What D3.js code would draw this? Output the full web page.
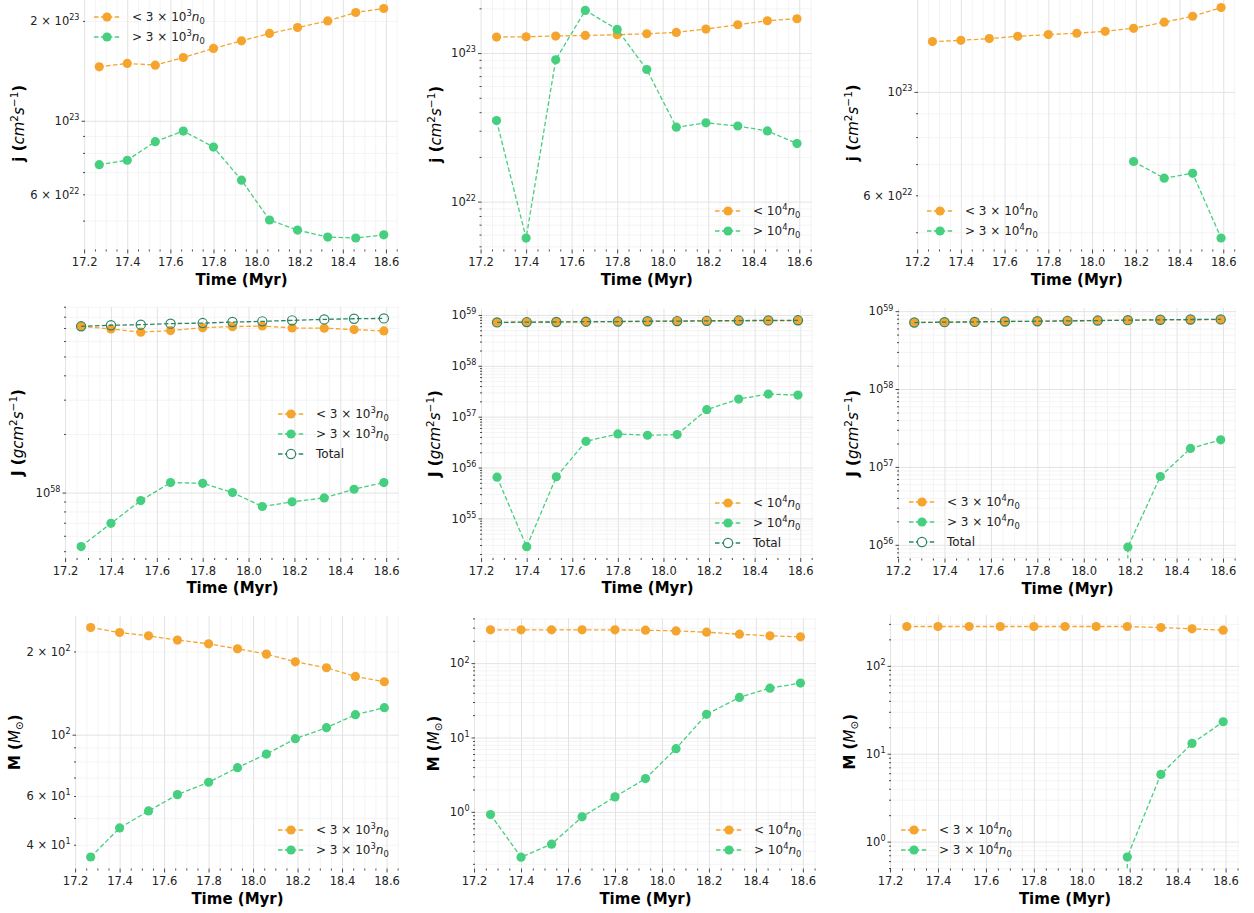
<!DOCTYPE html>
<html>
<head>
<meta charset="utf-8">
<script src="https://cdn.jsdelivr.net/npm/d3@7"></script>
<style>
  body { margin: 0; background: #fff; }
  svg { display: block; }
</style>
</head>
<body>
<script>
// snapshot times (Myr)
var time = [17.27, 17.40, 17.53, 17.66, 17.80, 17.93, 18.06, 18.19, 18.33, 18.46, 18.59];
var xTicks = [17.2, 17.4, 17.6, 17.8, 18.0, 18.2, 18.4, 18.6];

// specific angular momentum j (cm^2 s^-1)
var jLo3e3 = [1.454e23, 1.489e23, 1.471e23, 1.551e23, 1.652e23, 1.741e23, 1.833e23, 1.910e23, 2.00e23, 2.12e23, 2.18e23];
var jHi3e3 = [7.37e22, 7.60e22, 8.65e22, 9.31e22, 8.33e22, 6.62e22, 5.02e22, 4.68e22, 4.46e22, 4.43e22, 4.53e22];
var jLo1e4 = [1.282e23, 1.288e23, 1.302e23, 1.314e23, 1.328e23, 1.349e23, 1.377e23, 1.451e23, 1.551e23, 1.651e23, 1.703e23];
var jHi1e4 = [3.51e22, 5.68e21, 9.01e22, 1.938e23, 1.443e23, 7.75e22, 3.17e22, 3.39e22, 3.23e22, 2.99e22, 2.46e22];
var jLo3e4 = [1.282e23, 1.290e23, 1.301e23, 1.316e23, 1.327e23, 1.336e23, 1.349e23, 1.369e23, 1.411e23, 1.453e23, 1.517e23];
var jHi3e4 = [null, null, null, null, null, null, null, 7.09e22, 6.53e22, 6.69e22, 4.86e22];

// angular momentum J (g cm^2 s^-1)
var JTotal = [7.14e58, 7.23e58, 7.28e58, 7.37e58, 7.42e58, 7.51e58, 7.57e58, 7.66e58, 7.75e58, 7.81e58, 7.84e58];
var JLo3e3 = [7.14e58, 6.92e58, 6.66e58, 6.79e58, 7.03e58, 7.11e58, 7.17e58, 7.00e58, 6.98e58, 6.87e58, 6.76e58];
var JHi3e3 = [5.28e57, 6.95e57, 9.10e57, 1.125e58, 1.116e58, 1.00e58, 8.48e57, 8.96e57, 9.39e57, 1.04e58, 1.125e58];
var JLo1e4 = [7.13e58, 7.22e58, 7.27e58, 7.34e58, 7.38e58, 7.46e58, 7.52e58, 7.55e58, 7.60e58, 7.65e58, 7.70e58];
var JHi1e4 = [6.46e55, 2.78e54, 6.56e55, 3.28e56, 4.57e56, 4.31e56, 4.44e56, 1.37e57, 2.22e57, 2.78e57, 2.66e57];
var JLo3e4 = [7.13e58, 7.22e58, 7.27e58, 7.36e58, 7.41e58, 7.50e58, 7.56e58, 7.64e58, 7.70e58, 7.74e58, 7.78e58];
var JHi3e4 = [0, 0, 0, 0, 0, 0, 0, 9.34e55, 7.53e56, 1.73e57, 2.23e57];

// mass M (Msun)
var MLo3e3 = [244.2, 234.2, 227.8, 219.8, 213.2, 204.5, 195.6, 183.5, 174.6, 162.4, 155.4];
var MHi3e3 = [36.1, 46.0, 53.0, 60.7, 67.3, 76.0, 85.1, 96.7, 106.0, 118.1, 125.2];
var MLo1e4 = [280.3, 280.3, 280.3, 280.3, 280.3, 277.3, 271.6, 260.7, 245.2, 232.8, 225.7];
var MHi1e4 = [0.921, 0.246, 0.368, 0.857, 1.59, 2.80, 7.08, 20.5, 34.6, 46.1, 53.9];
var MLo3e4 = [279.9, 279.9, 279.9, 279.9, 279.9, 279.9, 279.9, 279.9, 272.7, 263.3, 254.3];
var MHi3e4 = [0, 0, 0, 0, 0, 0, 0, 0.669, 5.82, 13.1, 23.1];

// labelled y ticks per panel
var yLab1 = [6e22, 1e23, 2e23];
var yLab2 = [1e22, 1e23];
var yLab3 = [6e22, 1e23];
var yLab4 = [1e58];
var yLab5 = [1e55, 1e56, 1e57, 1e58, 1e59];
var yLab6 = [1e56, 1e57, 1e58, 1e59];
var yLab7 = [4e1, 6e1, 1e2, 2e2];
var yLab8 = [1e0, 1e1, 1e2];
var yLab9 = [1e0, 1e1, 1e2];

var ORANGE = "#f5a52e", GREEN = "#45cf7f", TEAL = "#2b8468";

// rich text pieces (mathtext style)
var labLo3e3 = [{t: "< 3 \u00d7 10"}, {t: "3", sup: 1}, {t: "n", i: 1}, {t: "0", sub: 1}];
var labHi3e3 = [{t: "> 3 \u00d7 10"}, {t: "3", sup: 1}, {t: "n", i: 1}, {t: "0", sub: 1}];
var labLo1e4 = [{t: "< 10"}, {t: "4", sup: 1}, {t: "n", i: 1}, {t: "0", sub: 1}];
var labHi1e4 = [{t: "> 10"}, {t: "4", sup: 1}, {t: "n", i: 1}, {t: "0", sub: 1}];
var labLo3e4 = [{t: "< 3 \u00d7 10"}, {t: "4", sup: 1}, {t: "n", i: 1}, {t: "0", sub: 1}];
var labHi3e4 = [{t: "> 3 \u00d7 10"}, {t: "4", sup: 1}, {t: "n", i: 1}, {t: "0", sub: 1}];
var labTot = [{t: "Total"}];

var jAxis = [{t: "j (", b: 1}, {t: "cm", i: 1}, {t: "2", sup: 1}, {t: "s", i: 1}, {t: "\u22121", sup: 1}, {t: ")", b: 1}];
var JAxis = [{t: "J (", b: 1}, {t: "gcm", i: 1}, {t: "2", sup: 1}, {t: "s", i: 1}, {t: "\u22121", sup: 1}, {t: ")", b: 1}];
var MAxis = [{t: "M (", b: 1}, {t: "M", i: 1}, {t: "\u2299", sub: 1}, {t: ")", b: 1}];

function S(v, c, lab, open) { return {v: v, c: c, lab: lab, open: open}; }

// panel boxes: l/r = x-limit pixels, t/b = y-limit pixels; lx = y-label x; leg = legend anchor
var panels = [
  {s: [S(jLo3e3, ORANGE, labLo3e3), S(jHi3e3, GREEN, labHi3e3)], yl: jAxis, yLab: yLab1,
   box: {l: 85, r: 398, t: -3, b: 249.5}, lx: 24, leg: {x: 107, y: 17}},
  {s: [S(jLo1e4, ORANGE, labLo1e4), S(jHi1e4, GREEN, labHi1e4)], yl: jAxis, yLab: yLab2,
   box: {l: 481.5, r: 812, t: -1, b: 249.5}, lx: 441, leg: {x: 728, y: 211}},
  {s: [S(jLo3e4, ORANGE, labLo3e4), S(jHi3e4, GREEN, labHi3e4)], yl: jAxis, yLab: yLab3,
   box: {l: 918, r: 1235.5, t: -4, b: 249.5}, lx: 858, leg: {x: 940, y: 211}},
  {s: [S(JLo3e3, ORANGE, labLo3e3), S(JHi3e3, GREEN, labHi3e3), S(JTotal, TEAL, labTot, true)], yl: JAxis, yLab: yLab4,
   box: {l: 66, r: 399, t: 307, b: 558}, lx: 23, leg: {x: 291, y: 414}},
  {s: [S(JLo1e4, ORANGE, labLo1e4), S(JHi1e4, GREEN, labHi1e4), S(JTotal, TEAL, labTot, true)], yl: JAxis, yLab: yLab5,
   box: {l: 482, r: 813, t: 309, b: 558}, lx: 440, leg: {x: 728, y: 503}},
  {s: [S(JLo3e4, ORANGE, labLo3e4), S(JHi3e4, GREEN, labHi3e4), S(JTotal, TEAL, labTot, true)], yl: JAxis, yLab: yLab6,
   box: {l: 899, r: 1236, t: 308, b: 558.5}, lx: 858, leg: {x: 922, y: 502}},
  {s: [S(MLo3e3, ORANGE, labLo3e3), S(MHi3e3, GREEN, labHi3e3)], yl: MAxis, yLab: yLab7,
   box: {l: 76, r: 399, t: 616, b: 868.5}, lx: 20, leg: {x: 291, y: 830}},
  {s: [S(MLo1e4, ORANGE, labLo1e4), S(MHi1e4, GREEN, labHi1e4)], yl: MAxis, yLab: yLab8,
   box: {l: 475, r: 816, t: 618.5, b: 868.5}, lx: 439, leg: {x: 729, y: 830}},
  {s: [S(MLo3e4, ORANGE, labLo3e4), S(MHi3e4, GREEN, labHi3e4)], yl: MAxis, yLab: yLab9,
   box: {l: 891, r: 1239, t: 615, b: 868.5}, lx: 855, leg: {x: 914, y: 830}}
];

// mathtext-like runs; the first run keeps the parent's dy
function rich(sel, parts, size) {
  var shift = 0;
  parts.forEach(function(p) {
    var target = p.sup ? -0.42 * size : (p.sub ? 0.22 * size : 0);
    var ts = sel.append("tspan").text(p.t);
    if (target - shift !== 0) ts.attr("dy", target - shift);
    shift = target;
    if (p.sup || p.sub) ts.attr("font-size", size * 0.7);
    ts.attr("font-weight", p.b ? "bold" : "normal");
    if (p.i) ts.attr("font-style", "italic");
  });
}

function logParts(v) {
  var e = Math.floor(Math.log10(v) + 1e-9);
  var m = Math.round(v / Math.pow(10, e));
  var head = m === 1 ? "10" : m + " \u00d7 10";
  return [{t: head}, {t: String(e), sup: 1}];
}

var svg = d3.select("body").append("svg")
  .attr("width", 1254).attr("height", 913)
  .style("font-family", "'DejaVu Sans', sans-serif");

var t0 = d3.min(time), t1 = d3.max(time), tPad = 0.05 * (t1 - t0);
var xDom = [t0 - tPad, t1 + tPad];
var xMinor = d3.range(17.2, 18.66, 0.05).map(function(d) { return +d.toFixed(2); });

panels.forEach(function(p, k) {
  var b = p.box;
  var g = svg.append("g");
  var x = d3.scaleLinear().domain(xDom).range([b.l, b.r]);

  var all = [];
  p.s.forEach(function(s) { s.v.forEach(function(v) { if (v > 0) all.push(Math.log10(v)); }); });
  var lo = d3.min(all), hi = d3.max(all), m = 0.05 * (hi - lo);
  var y = d3.scaleLog().domain([Math.pow(10, lo - m), Math.pow(10, hi + m)]).range([b.b, b.t]);

  var yMajor = [], yMinor = [];
  for (var e = Math.floor(lo - m) - 1; e <= Math.ceil(hi + m); e++) {
    var base = Math.pow(10, e);
    if (y(base) <= b.b + 0.5 && y(base) >= b.t - 0.5) yMajor.push(base);
    for (var q = 2; q <= 9; q++) {
      var vv = q * base;
      if (y(vv) <= b.b + 0.5 && y(vv) >= b.t - 0.5) yMinor.push(vv);
    }
  }
  var xMaj = xTicks.filter(function(d) { return x(d) <= b.r + 0.5; });
  var xMin = xMinor.filter(function(d) { return x(d) >= b.l - 0.5 && x(d) <= b.r + 0.5 && xMaj.indexOf(d) < 0; });
  var H = b.b - b.t, Wd = b.r - b.l;

  // grid
  function grid(axis, col, w) {
    var gg = g.append("g").call(axis);
    gg.select(".domain").remove();
    gg.selectAll("line").attr("stroke", col).attr("stroke-width", w);
    return gg;
  }
  grid(d3.axisBottom(x).tickValues(xMin).tickSize(-H).tickFormat(""), "#f1f1f1", 0.8)
    .attr("transform", "translate(0," + b.b + ")");
  grid(d3.axisLeft(y).tickValues(yMinor).tickSize(-Wd).tickFormat(""), "#f1f1f1", 0.8)
    .attr("transform", "translate(" + b.l + ",0)");
  grid(d3.axisBottom(x).tickValues(xMaj).tickSize(-H).tickFormat(""), "#e3e3e3", 1)
    .attr("transform", "translate(0," + b.b + ")");
  grid(d3.axisLeft(y).tickValues(yMajor).tickSize(-Wd).tickFormat(""), "#e3e3e3", 1)
    .attr("transform", "translate(" + b.l + ",0)");

  // tick marks
  function ticks(axis, tr) {
    var gg = g.append("g").attr("transform", tr).call(axis)
      .attr("font-family", null).attr("font-size", 11.5).attr("color", "#333");
    gg.select(".domain").remove();
    gg.selectAll("line").attr("stroke-width", 0.9);
    return gg;
  }
  ticks(d3.axisBottom(x).tickValues(xMin).tickSize(2).tickFormat(""), "translate(0," + b.b + ")");
  ticks(d3.axisLeft(y).tickValues(yMinor).tickSize(2).tickFormat(""), "translate(" + b.l + ",0)");
  var xa = ticks(d3.axisBottom(x).tickValues(xMaj).tickSize(4).tickPadding(4.5).tickFormat(d3.format(".1f")),
    "translate(0," + b.b + ")");
  xa.selectAll("text").attr("fill", "#222");
  ticks(d3.axisLeft(y).tickValues(yMajor).tickSize(3.5).tickFormat(""), "translate(" + b.l + ",0)");
  var ya = ticks(d3.axisLeft(y).tickValues(p.yLab).tickSize(0).tickPadding(5.5).tickFormat(""),
    "translate(" + b.l + ",0)");
  ya.selectAll("line").remove();
  ya.selectAll("text").attr("fill", "#222").each(function(d) {
    rich(d3.select(this), logParts(d), 11.5);
  });

  // axis labels
  svg.append("text")
    .attr("x", (b.l + b.r) / 2).attr("y", b.b + 35)
    .attr("text-anchor", "middle").attr("font-size", 15).attr("font-weight", "bold")
    .text("Time (Myr)");
  var yl = svg.append("text")
    .attr("transform", "translate(" + p.lx + "," + ((b.t + b.b) / 2) + ") rotate(-90)")
    .attr("text-anchor", "middle").attr("font-size", 15);
  rich(yl, p.yl, 15);

  // series
  var clipId = "clip" + k;
  svg.append("clipPath").attr("id", clipId).append("rect")
    .attr("x", b.l).attr("y", b.t - 20).attr("width", Wd).attr("height", H + 20);
  p.s.forEach(function(s) {
    var pts = s.v.map(function(v, i) { return {t: time[i], v: v}; });
    var line = d3.line()
      .defined(function(d) { return d.v !== null; })
      .x(function(d) { return x(d.t); })
      .y(function(d) { return d.v > 0 ? y(d.v) : b.b + 20000; });
    g.append("path").datum(pts)
      .attr("clip-path", "url(#" + clipId + ")")
      .attr("d", line)
      .attr("fill", "none").attr("stroke", s.c)
      .attr("stroke-width", 1.3).attr("stroke-dasharray", "4.5,2.4");
    g.append("g").selectAll("circle")
      .data(pts.filter(function(d) { return d.v !== null && d.v > 0; }))
      .enter().append("circle")
        .attr("cx", function(d) { return x(d.t); })
        .attr("cy", function(d) { return y(d.v); })
        .attr("r", 4.6)
        .attr("fill", s.open ? "none" : s.c)
        .attr("stroke", s.open ? s.c : "none")
        .attr("stroke-width", 1.2);
  });

  // legend
  var lg = svg.append("g").attr("transform", "translate(" + p.leg.x + "," + p.leg.y + ")");
  p.s.forEach(function(s, i) {
    var row = lg.append("g").attr("transform", "translate(0," + (i * 20) + ")");
    row.append("line").attr("x1", -13).attr("x2", 13)
      .attr("stroke", s.c).attr("stroke-width", 1.3).attr("stroke-dasharray", "4.5,2.4");
    row.append("circle").attr("r", 4.6)
      .attr("fill", s.open ? "#fff" : s.c)
      .attr("stroke", s.open ? s.c : "none").attr("stroke-width", 1.2);
    var tx = row.append("text").attr("x", 25).attr("y", 4.3)
      .attr("font-size", 12).attr("fill", "#222");
    rich(tx, s.lab, 12);
  });
});
</script>
</body>
</html>
